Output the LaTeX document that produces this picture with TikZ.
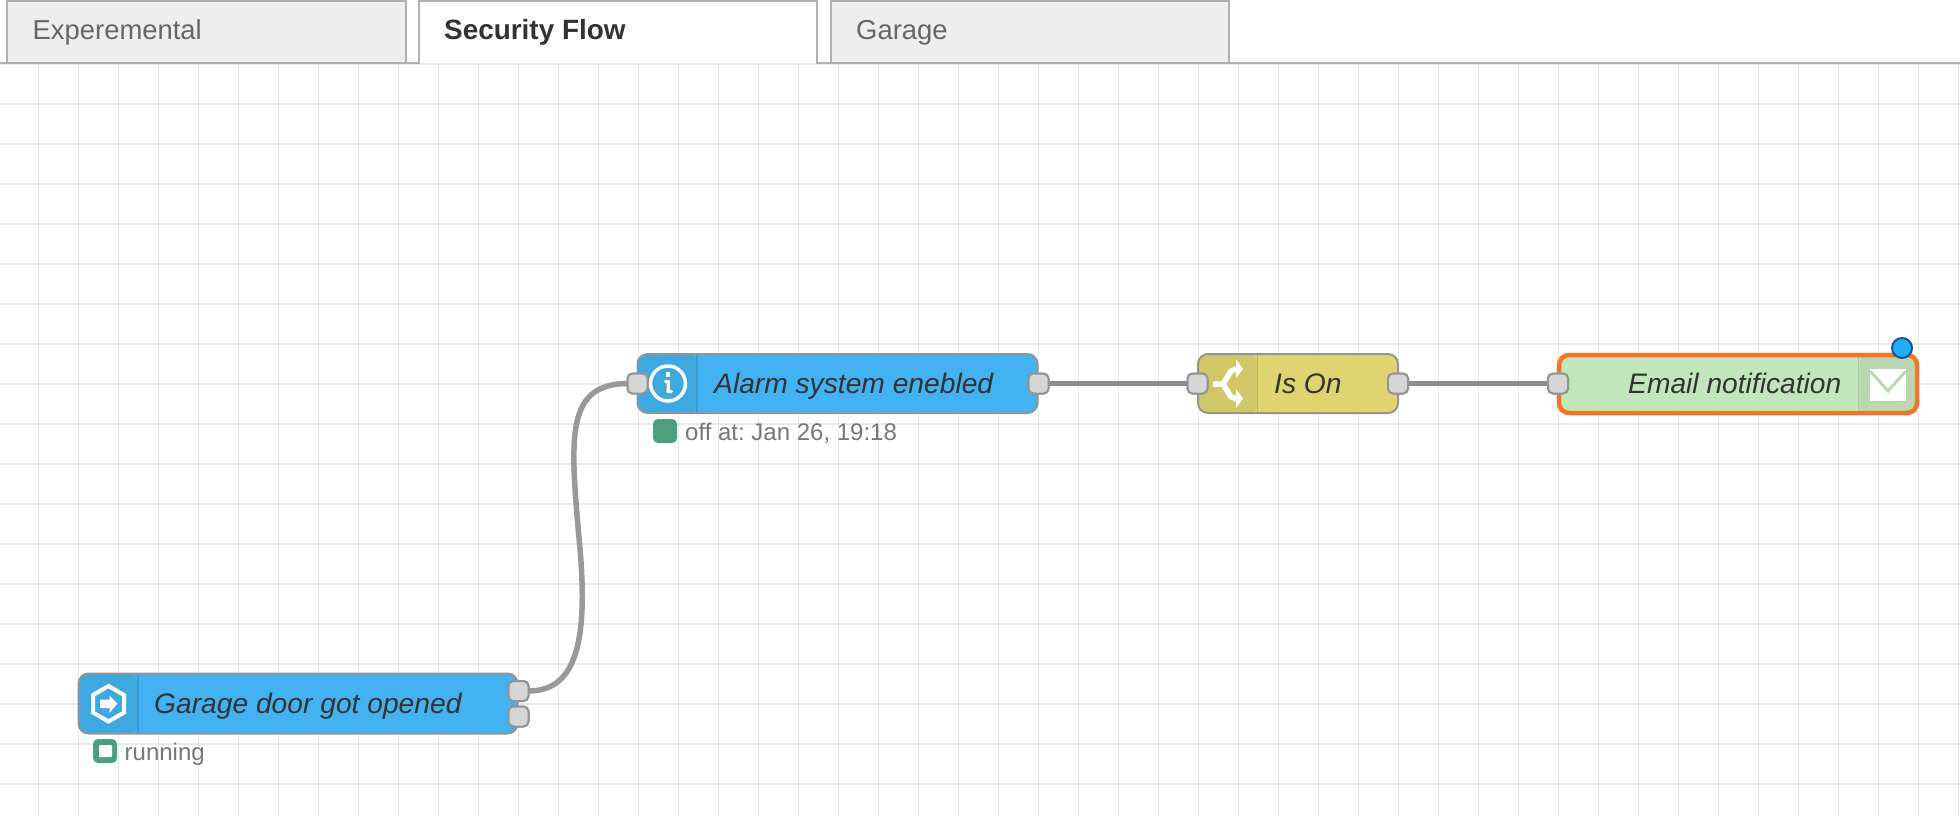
\documentclass[tikz,border=0pt]{standalone}
\usepackage{fontspec}
\setmainfont{Liberation Sans}
\frenchspacing
\definecolor{gridc}{HTML}{E9E9E9}
\definecolor{tabline}{HTML}{B0B0B0}
\definecolor{tabfill}{HTML}{EEEEEE}
\definecolor{tabtext}{HTML}{666666}
\definecolor{nodeline}{HTML}{949494}
\definecolor{nodetext}{HTML}{333333}
\definecolor{bluefill}{HTML}{42B2F2}
\definecolor{blueicon}{HTML}{3EA8E0}
\definecolor{bluediv}{HTML}{3A9ACF}
\definecolor{yelfill}{HTML}{DFD46F}
\definecolor{yelicon}{HTML}{CFC768}
\definecolor{yeldiv}{HTML}{B9B25F}
\definecolor{grnfill}{HTML}{C2E6BC}
\definecolor{grnicon}{HTML}{B9D8B1}
\definecolor{grndiv}{HTML}{A6C9A0}
\definecolor{orangec}{HTML}{F97326}
\definecolor{portfill}{HTML}{D6D6D6}
\definecolor{wirec}{HTML}{999999}
\definecolor{statusc}{HTML}{4F9F7F}
\definecolor{statustext}{HTML}{777777}
\definecolor{dotfill}{HTML}{24ADFF}
\definecolor{dotline}{HTML}{17578A}
\tikzset{
  x=1pt,y=-1pt,
  gridline/.style={draw=gridc,line width=1.8pt},
  flownode/.style={rectangle,rounded corners=10pt,draw=nodeline,line width=2pt,anchor=north west,outer sep=0pt,inner sep=0pt},
  iconleft/.style args={#1 and #2}{path picture={
     \fill[#1] (path picture bounding box.north west) rectangle ++(59.5,60);
     \draw[#2,line width=1.5pt] ([xshift=59.5pt]path picture bounding box.north west) -- ([xshift=59.5pt]path picture bounding box.south west);}},
  iconright/.style args={#1 and #2}{path picture={
     \fill[#1] (path picture bounding box.north east) rectangle ++(-58.5,60);
     \draw[#2,line width=1.5pt] ([xshift=-58.5pt]path picture bounding box.north east) -- ([xshift=-58.5pt]path picture bounding box.south east);}},
  portbox/.style={rectangle,rounded corners=5pt,draw=nodeline,line width=2pt,fill=portfill,minimum width=20pt,minimum height=20pt,inner sep=0pt,outer sep=0pt},
  wire/.style={draw=wirec,line width=5.5pt},
  nodelabel/.style={anchor=base west,inner sep=0pt,text=nodetext,font=\fontsize{28.2}{30}\selectfont\itshape},
  statuslabel/.style={anchor=base west,inner sep=0pt,text=statustext,font=\fontsize{24}{26}\selectfont},
  statusbox/.style={rectangle,rounded corners=5pt,fill=statusc,minimum width=24pt,minimum height=24pt,inner sep=0pt,outer sep=0pt},
  tabbox/.style={rectangle,anchor=north west,line width=2pt,minimum height=62pt,inner sep=0pt,outer sep=0pt},
  tablabel/.style={anchor=base west,inner sep=0pt,text=tabtext,font=\fontsize{27.4}{30}\selectfont},
  iconstroke/.style={draw=white,line cap=butt,line join=miter}
}
\begin{document}
\begin{tikzpicture}
\useasboundingbox (0,0) rectangle (1960,816);
\fill[white] (0,0) rectangle (1960,816);
% grid
\foreach \gx in {0,...,48} { \draw[gridline] ({38.5+40*\gx},64) -- ({38.5+40*\gx},816); }
\foreach \gy in {0,...,18} { \draw[gridline] (0,{64+40*\gy}) -- (1960,{64+40*\gy}); }
% tabs
\coordinate (baseL) at (0,63);
\coordinate (baseR) at (1960,63);
\node[tabbox,fill=tabfill,draw=tabline,minimum width=399pt] (tabA) at (6.5,1) {};
\node[tabbox,fill=tabfill,draw=tabline,minimum width=398pt] (tabC) at (831,1) {};
\node[tabbox,fill=white,minimum width=398pt] (tabB) at (419,1) {};
\draw[tabline,line width=2pt] (baseL) -- (tabB.south west) -- (tabB.north west) -- (tabB.north east) -- (tabB.south east) -- (baseR);
\node[tablabel] (tabAt) at (32.5,40) {Experemental};
\node[tablabel,text=nodetext,font=\fontsize{27.9}{30}\selectfont\bfseries] (tabBt) at (444,40) {Security Flow};
\node[tablabel] (tabCt) at (856,40) {Garage};
% nodes
\node[flownode,fill=bluefill,iconleft=blueicon and bluediv,minimum width=439pt,minimum height=60pt] (n1) at (78.5,673.5) {};
\node[flownode,fill=bluefill,iconleft=blueicon and bluediv,minimum width=400pt,minimum height=59pt] (n2) at (637.5,354) {};
\node[flownode,fill=yelfill,iconleft=yelicon and yeldiv,minimum width=200pt,minimum height=59pt] (n3) at (1198,354) {};
\node[flownode,fill=grnfill,iconright=grnicon and grndiv,draw=orangec,line width=4.5pt,minimum width=358pt,minimum height=58pt] (n4) at (1559,355) {};
% ports
\node[portbox] (p1a) at (518.5,691) {};
\node[portbox] (p1b) at (518.5,716.5) {};
\node[portbox] (p2i) at (637.5,383.5) {};
\node[portbox] (p2o) at (1038.5,383.5) {};
\node[portbox] (p3i) at (1197.5,383.5) {};
\node[portbox] (p3o) at (1398,383.5) {};
\node[portbox] (p4i) at (1558,383.5) {};
% wires
\coordinate (wmid) at (579,538);
\draw[wire] (p1a.east) .. controls (577,691) and (589,640) .. (wmid) .. controls (570,436) and (566,384) .. (p2i.west);
\draw[wire,draw=wirec!92!black] (p2o.east) -- (p3i.west);
\draw[wire,draw=wirec!92!black] (p3o.east) -- (p4i.west);
\node[portbox] at (p1a) {};
\node[portbox] at (p1b) {};
\node[portbox] at (p2i) {};
\node[portbox] at (p2o) {};
\node[portbox] at (p3i) {};
\node[portbox] at (p3o) {};
\node[portbox] at (p4i) {};
% labels
\node[nodelabel] (t1) at (154,713) {Garage door got opened};
\node[nodelabel] (t2) at (714,393) {Alarm system enebled};
\node[nodelabel] (t3) at (1274,393) {Is On};
\node[nodelabel] (t4) at (1628,393) {Email notification};
% status
\node[statusbox] (s1) at (105,751) {};
\fill[white,rounded corners=1pt] (99,745) rectangle (112,757);
\node[statuslabel] (s1t) at (124.5,760) {running};
\node[statusbox] (s2) at (665,431) {};
\node[statuslabel] (s2t) at (685,440) {off at: Jan 26, 19:18};
% hexagon icon
\draw[iconstroke,line width=4pt] (108.5,686) -- (124,695) -- (124,712.5) -- (108.5,721.5) -- (93,712.5) -- (93,695) -- cycle;
\fill[white] (100,699.5) -- (109.5,699.5) -- (109.5,695.5) -- (117.5,703.5) -- (109.5,713) -- (109.5,708) -- (100,708) -- cycle;
% info icon
\draw[white,line width=3.5pt] (668,383.5) circle (17.5);
\fill[white] (665.8,372) rectangle (670,376.5);
\draw[white,line width=3.2pt,line join=round,line cap=round] (665.5,381.5) -- (668.5,381.5) -- (668,391.5) -- (671.5,391.5);
% switch icon
\draw[white,line width=5.5pt,line join=round] (1213,384) -- (1223,384) -- (1231,371) -- (1237,369);
\draw[white,line width=5.5pt,line join=round] (1223,384) -- (1231,397) -- (1237,399);
\fill[white] (1236,359.5) -- (1243,369) -- (1236,378) -- cycle;
\fill[white] (1236,389) -- (1243,398.5) -- (1236,408) -- cycle;
% envelope icon
\fill[white] (1870,369) rectangle (1906,401);
\draw[grnicon,line width=2.8pt] (1870,371) -- (1888,391) -- (1906,371);
% dot
\node[circle,fill=dotfill,draw=dotline,line width=2pt,minimum size=20pt,inner sep=0pt] (dot) at (1902,348) {};
\end{tikzpicture}
\end{document}
